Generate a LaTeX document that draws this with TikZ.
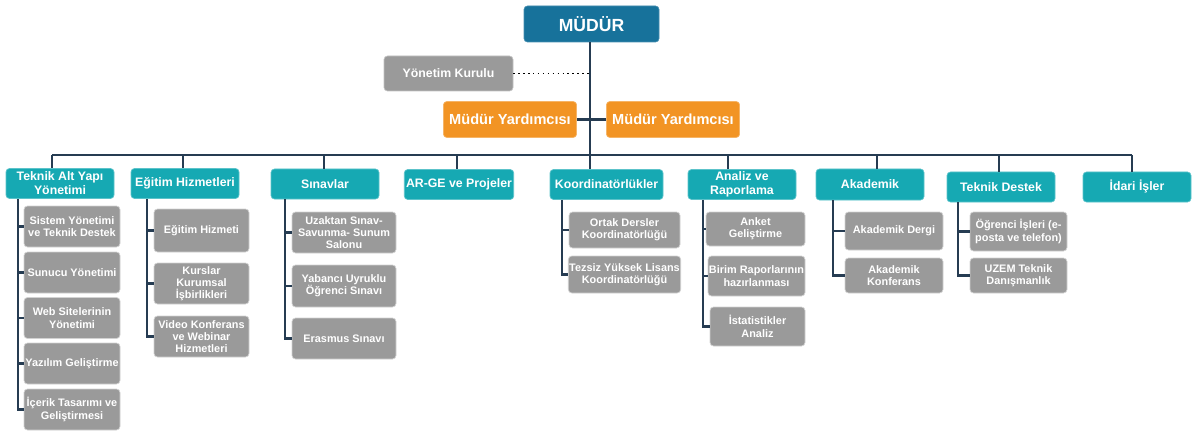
\documentclass[tikz,border=0pt]{standalone}
\usepackage{fontspec}
\setmainfont{Liberation Sans}
\usepackage{xcolor}
\definecolor{mudurblue}{HTML}{17729B}
\definecolor{tealbox}{HTML}{16A9B3}
\definecolor{orangebox}{HTML}{F29424}
\definecolor{graybox}{HTML}{9A9A9A}
\definecolor{linkcol}{HTML}{263C52}
\newcommand{\pxu}{0.02cm}

\begin{document}
\begin{tikzpicture}[
    x=0.02cm, y=-0.02cm,
    headblock/.style={rectangle, fill=mudurblue, draw=mudurblue!80!white, rounded corners=2pt, text=white, font=\fontsize{10}{12}\selectfont\bfseries, minimum width=135*\pxu, minimum height=36*\pxu},
    boardblock/.style={rectangle, fill=graybox, draw=graybox!60!white, rounded corners=2pt, text=white, font=\fontsize{7}{8}\selectfont\bfseries, minimum width=129*\pxu, minimum height=35*\pxu},
    deputyblock/.style={rectangle, fill=orangebox, draw=orangebox!70!white, rounded corners=2pt, text=white, font=\fontsize{8.3}{10}\selectfont\bfseries, minimum width=129*\pxu, minimum height=36*\pxu},
    deptblock/.style={rectangle, fill=tealbox, draw=tealbox!70!white, rounded corners=2pt, text=white, font=\fontsize{7}{8}\selectfont\bfseries, align=center, inner sep=1pt, minimum width=108*\pxu, minimum height=30*\pxu},
    unitblock/.style={rectangle, fill=graybox, draw=graybox!45!white, rounded corners=2pt, text=white, font=\fontsize{6.2}{7}\selectfont\bfseries, align=center, inner sep=0.5pt},
    link/.style={draw=linkcol, line width=1.2pt},
    boardlink/.style={draw=black, dotted, line width=0.8pt}
]
    \useasboundingbox (0,0) rectangle (1192,432);

    % Top of the chart
    \node[headblock] (mudur) at (591.5,24) {MÜDÜR};
    \node[boardblock] (board) at (448.5,73.5) {Yönetim Kurulu};
    \node[deputyblock, minimum width=128*\pxu] (dep1) at (510,119.5) {Müdür Yardımcısı};
    \node[deputyblock, minimum width=130*\pxu] (dep2) at (673,119.5) {Müdür Yardımcısı};

    % Departments
    \node[deptblock] (t1) at (60,183.5) {Teknik Alt Yapı\\Yönetimi};
    \node[deptblock] (t2) at (185,183.5) {Eğitim Hizmetleri};
    \node[deptblock] (t3) at (325,184) {Sınavlar};
    \node[deptblock] (t4) at (459,184.5) {AR-GE ve Projeler};
    \node[deptblock, minimum width=113*\pxu] (t5) at (606.5,184.5) {Koordinatörlükler};
    \node[deptblock] (t6) at (742,184.5) {Analiz ve\\Raporlama};
    \node[deptblock, minimum height=31*\pxu] (t7) at (870,184.5) {Akademik};
    \node[deptblock] (t8) at (1001,187) {Teknik Destek};
    \node[deptblock] (t9) at (1137,187) {İdari İşler};

    % Units under Teknik Alt Yapi
    \node[unitblock, minimum width=96*\pxu, minimum height=41*\pxu] (s11) at (72,226.5) {Sistem Yönetimi\\ve Teknik Destek};
    \node[unitblock, minimum width=96*\pxu, minimum height=41*\pxu] (s12) at (72,272.5) {Sunucu Yönetimi};
    \node[unitblock, minimum width=96*\pxu, minimum height=41*\pxu] (s13) at (72,318) {Web Sitelerinin\\Yönetimi};
    \node[unitblock, minimum width=96*\pxu, minimum height=41*\pxu] (s14) at (72,363.5) {Yazılım Geliştirme};
    \node[unitblock, minimum width=96*\pxu, minimum height=41*\pxu] (s15) at (72,409.5) {İçerik Tasarımı ve\\Geliştirmesi};

    % Units under Egitim Hizmetleri
    \node[unitblock, minimum width=95*\pxu, minimum height=43*\pxu] (s21) at (201.5,230.5) {Eğitim Hizmeti};
    \node[unitblock, minimum width=95*\pxu, minimum height=41*\pxu] (s22) at (201.5,283.5) {Kurslar\\Kurumsal\\İşbirlikleri};
    \node[unitblock, minimum width=95*\pxu, minimum height=41*\pxu] (s23) at (201.5,336.5) {Video Konferans\\ve Webinar\\Hizmetleri};

    % Units under Sinavlar
    \node[unitblock, minimum width=104*\pxu, minimum height=41*\pxu] (s31) at (344,232.5) {Uzaktan Sınav-\\Savunma- Sunum\\Salonu};
    \node[unitblock, minimum width=104*\pxu, minimum height=42*\pxu] (s32) at (344,286) {Yabancı Uyruklu\\Öğrenci Sınavı};
    \node[unitblock, minimum width=104*\pxu, minimum height=41*\pxu] (s33) at (344,338.5) {Erasmus Sınavı};

    % Units under Koordinatorlukler
    \node[unitblock, minimum width=111*\pxu, minimum height=36*\pxu] (s41) at (624.5,230) {Ortak Dersler\\Koordinatörlüğü};
    \node[unitblock, minimum width=111*\pxu, minimum height=37*\pxu] (s42) at (624.5,274.5) {Tezsiz Yüksek Lisans\\Koordinatörlüğü};

    % Units under Analiz ve Raporlama
    \node[unitblock, minimum width=99*\pxu, minimum height=34*\pxu] (s51) at (755.5,229) {Anket\\Geliştirme};
    \node[unitblock, minimum width=97*\pxu, minimum height=40*\pxu] (s52) at (756.5,276) {Birim Raporlarının\\hazırlanması};
    \node[unitblock, minimum width=95*\pxu, minimum height=39*\pxu] (s53) at (757.5,326.5) {İstatistikler\\Analiz};

    % Units under Akademik
    \node[unitblock, minimum width=98*\pxu, minimum height=38*\pxu] (s61) at (894,231) {Akademik Dergi};
    \node[unitblock, minimum width=98*\pxu, minimum height=35*\pxu] (s62) at (894,275.5) {Akademik\\Konferans};

    % Units under Teknik Destek
    \node[unitblock, minimum width=97*\pxu, minimum height=39*\pxu] (s71) at (1018.5,231.5) {Öğrenci İşleri (e-\\posta ve telefon)};
    \node[unitblock, minimum width=97*\pxu, minimum height=35*\pxu] (s72) at (1018.5,275.5) {UZEM Teknik\\Danışmanlık};

    % Bus and drop points
    \coordinate (d1) at (52,155);
    \coordinate (d2) at (183,155);
    \coordinate (d3) at (324,155);
    \coordinate (d4) at (457,155);
    \coordinate (d5) at (590,155);
    \coordinate (d6) at (728,155);
    \coordinate (d7) at (877,155);
    \coordinate (d8) at (999,155);
    \coordinate (d9) at (1132,155);

    \draw[link] (mudur.south -| d5) -- (d5);
    \draw[link] (d1) -- (d9);
    \foreach \i in {1,...,9} {
        \draw[link] (d\i) -- (d\i |- t\i.north);
    }
    \draw[boardlink] (board.east) -- (board.east -| d5);
    \draw[link] (dep1.east) -- (dep2.west);

    % Vertical lines to units
    \coordinate (v1) at (18,0);
    \coordinate (v2) at (147,0);
    \coordinate (v3) at (285,0);
    \coordinate (v5) at (562,0);
    \coordinate (v6) at (703,0);
    \coordinate (v7) at (833,0);
    \coordinate (v8) at (958,0);

    \draw[link] (t1.south -| v1) |- (s15.west);
    \foreach \k in {11,...,14} \draw[link] (s\k.west -| v1) -- (s\k.west);
    \draw[link] (t2.south -| v2) |- (s23.west);
    \foreach \k in {21,22} \draw[link] (s\k.west -| v2) -- (s\k.west);
    \draw[link] (t3.south -| v3) |- (s33.west);
    \foreach \k in {31,32} \draw[link] (s\k.west -| v3) -- (s\k.west);
    \draw[link] (t5.south -| v5) |- (s42.west);
    \draw[link] (s41.west -| v5) -- (s41.west);
    \draw[link] (t6.south -| v6) |- (s53.west);
    \foreach \k in {51,52} \draw[link] (s\k.west -| v6) -- (s\k.west);
    \draw[link] (t7.south -| v7) |- (s62.west);
    \draw[link] (s61.west -| v7) -- (s61.west);
    \draw[link] (t8.south -| v8) |- (s72.west);
    \draw[link] (s71.west -| v8) -- (s71.west);

\end{tikzpicture}
\end{document}
